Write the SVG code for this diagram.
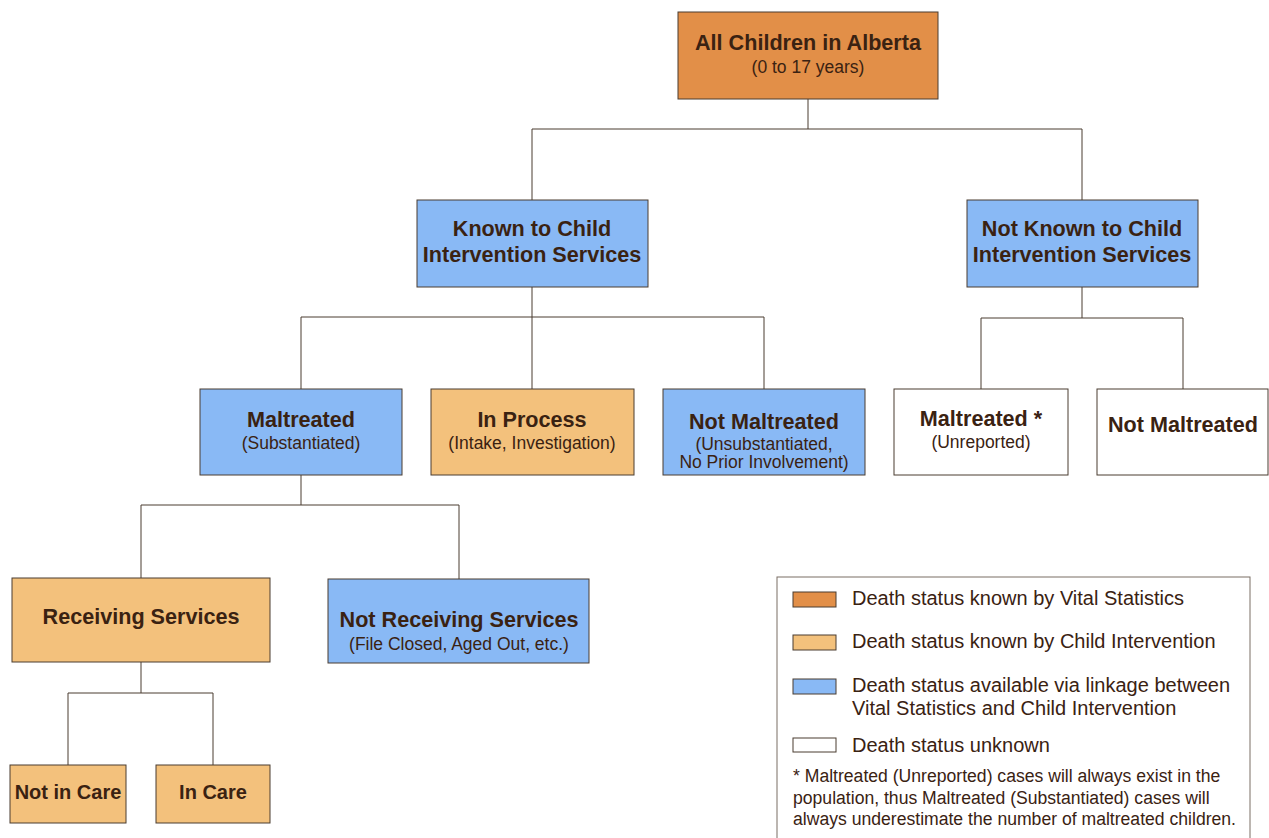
<svg xmlns="http://www.w3.org/2000/svg" width="1269" height="838" viewBox="0 0 1269 838">
<style>
.n{stroke:#4a3c30;stroke-width:1}
.o{fill:#E28F48}.lo{fill:#F3C17C}.b{fill:#89B9F5}.w{fill:#FFFFFF}
.t{font-family:"Liberation Sans",Arial,sans-serif;font-weight:bold;font-size:21.6px;fill:#3A2212;text-anchor:middle}
.sm{font-size:20px}
.s{font-family:"Liberation Sans",Arial,sans-serif;font-size:17.5px;fill:#3A2212;text-anchor:middle}
.l{font-family:"Liberation Sans",Arial,sans-serif;font-size:20px;fill:#3A2212}
.f{font-family:"Liberation Sans",Arial,sans-serif;font-size:17.6px;fill:#3A2212}
.c{fill:none;stroke:#4a3c30;stroke-width:1}
</style>
<rect width="1269" height="838" fill="#FFFFFF"/>
<g id="connectors">
<path class="c" d="M808,99V129M532,129H1082M532,129V200M1082,129V200"/>
<path class="c" d="M532,287V317M301,317H764M301,317V389M532,317V389M764,317V389"/>
<path class="c" d="M1082,287V318M981,318H1183M981,318V389M1183,318V389"/>
<path class="c" d="M301,475V505M141,505H459M141,505V578M459,505V579"/>
<path class="c" d="M141,662V693M68,693H213M68,693V765M213,693V765"/>
</g>
<g id="all-children">
<rect class="n o" x="678" y="12" width="260" height="87"/>
<text class="t" x="808" y="50">All Children in Alberta</text>
<text class="s" x="808" y="73">(0 to 17 years)</text>
</g>
<g id="known">
<rect class="n b" x="417" y="200" width="231" height="87"/>
<text class="t" x="532" y="236">Known to Child</text>
<text class="t" x="532" y="262">Intervention Services</text>
</g>
<g id="not-known">
<rect class="n b" x="967" y="200" width="231" height="87"/>
<text class="t" x="1082" y="236">Not Known to Child</text>
<text class="t" x="1082" y="262">Intervention Services</text>
</g>
<g id="maltreated">
<rect class="n b" x="200" y="389" width="202" height="86"/>
<text class="t" x="301" y="427">Maltreated</text>
<text class="s" x="301" y="449">(Substantiated)</text>
</g>
<g id="in-process">
<rect class="n lo" x="431" y="389" width="203" height="86"/>
<text class="t" x="532" y="427">In Process</text>
<text class="s" x="532" y="449">(Intake, Investigation)</text>
</g>
<g id="not-maltreated-known">
<rect class="n b" x="663" y="389" width="202" height="86"/>
<text class="t" x="764" y="429">Not Maltreated</text>
<text class="s" x="764" y="450">(Unsubstantiated,</text>
<text class="s" x="764" y="468">No Prior Involvement)</text>
</g>
<g id="maltreated-unreported">
<rect class="n w" x="894" y="389" width="174" height="86"/>
<text class="t" x="981" y="426">Maltreated *</text>
<text class="s" x="981" y="448">(Unreported)</text>
</g>
<g id="not-maltreated-unknown">
<rect class="n w" x="1097" y="389" width="171" height="86"/>
<text class="t" x="1183" y="432">Not Maltreated</text>
</g>
<g id="receiving">
<rect class="n lo" x="12" y="578" width="258" height="84"/>
<text class="t" x="141" y="624">Receiving Services</text>
</g>
<g id="not-receiving">
<rect class="n b" x="328" y="579" width="261" height="84"/>
<text class="t" x="459" y="627">Not Receiving Services</text>
<text class="s" x="459" y="650">(File Closed, Aged Out, etc.)</text>
</g>
<g id="not-in-care">
<rect class="n lo" x="10" y="765" width="116" height="58"/>
<text class="t sm" x="68" y="799">Not in Care</text>
</g>
<g id="in-care">
<rect class="n lo" x="156" y="765" width="114" height="58"/>
<text class="t sm" x="213" y="799">In Care</text>
</g>
<g id="legend">
<rect x="777" y="577" width="473" height="270" fill="#FFFFFF" stroke="#7a6e64" stroke-width="1"/>
<rect class="n o" x="793" y="592" width="43" height="15"/>
<text class="l" x="852" y="605">Death status known by Vital Statistics</text>
<rect class="n lo" x="793" y="635" width="43" height="15"/>
<text class="l" x="852" y="648">Death status known by Child Intervention</text>
<rect class="n b" x="793" y="679" width="43" height="15"/>
<text class="l" x="852" y="692">Death status available via linkage between</text>
<text class="l" x="852" y="715">Vital Statistics and Child Intervention</text>
<rect class="n w" x="793" y="738" width="43" height="14"/>
<text class="l" x="852" y="752">Death status unknown</text>
<text class="f" x="793" y="782">* Maltreated (Unreported) cases will always exist in the</text>
<text class="f" x="793" y="804">population, thus Maltreated (Substantiated) cases will</text>
<text class="f" x="793" y="825">always underestimate the number of maltreated children.</text>
</g>
</svg>
